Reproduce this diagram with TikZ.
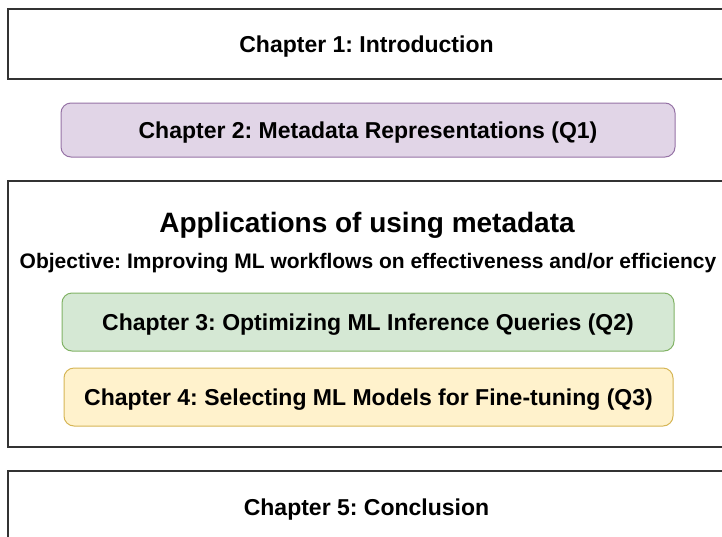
\documentclass[tikz,border=0pt]{standalone}
\usepackage{fontspec}
\setmainfont{Liberation Sans}
\frenchspacing
\definecolor{purfill}{HTML}{E1D5E7}
\definecolor{purline}{HTML}{9673A6}
\definecolor{grnfill}{HTML}{D5E8D4}
\definecolor{grnline}{HTML}{82B366}
\definecolor{yelfill}{HTML}{FFF2CC}
\definecolor{yelline}{HTML}{D6B656}
\definecolor{outline}{HTML}{333333}
\begin{document}
\begin{tikzpicture}[x=1pt,y=-1pt,
  outerbox/.style={draw=outline, line width=1.2pt, fill=white, rectangle, inner sep=0pt, text height=16.5pt, text depth=0pt, font=\bfseries\fontsize{23}{27}\selectfont},
  chapbox/.style={rectangle, rounded corners=10pt, line width=1pt, inner sep=0pt, text height=16.5pt, text depth=0pt, font=\bfseries\fontsize{23}{27}\selectfont},
  titletext/.style={inner sep=0pt, text height=20pt, text depth=0pt, font=\bfseries\fontsize{28}{32}\selectfont},
  objtext/.style={inner sep=0pt, text height=15pt, text depth=0pt, font=\bfseries\fontsize{21}{25}\selectfont}]
\useasboundingbox (0,0) rectangle (722,536);
\clip (0,0) rectangle (722,536);
\fill[white] (0,0) rectangle (722,536);
% Chapter 1
\node[outerbox, minimum width=717pt, minimum height=70pt] (ch1) at (366.5,44) {Chapter 1: Introduction};
% Chapter 2
\node[chapbox, draw=purline, fill=purfill, minimum width=614pt, minimum height=54pt] (ch2) at (368,130) {Chapter 2: Metadata Representations (Q1)};
% Applications
\node[outerbox, minimum width=717pt, minimum height=266pt] (apps) at (366.5,314) {};
\node[titletext] (title) at (367,222) {Applications of using metadata};
\node[objtext] (obj) at (368,261) {Objective: Improving ML workflows on effectiveness and/or efficiency};
\node[chapbox, draw=grnline, fill=grnfill, minimum width=612pt, minimum height=58pt] (ch3) at (368,322) {Chapter 3: Optimizing ML Inference Queries (Q2)};
\node[chapbox, draw=yelline, fill=yelfill, minimum width=609pt, minimum height=58pt] (ch4) at (368.5,397) {Chapter 4: Selecting ML Models for Fine-tuning (Q3)};
% Chapter 5
\node[outerbox, minimum width=717pt, minimum height=72pt] (ch5) at (366.5,507) {Chapter 5: Conclusion};
\end{tikzpicture}
\end{document}
